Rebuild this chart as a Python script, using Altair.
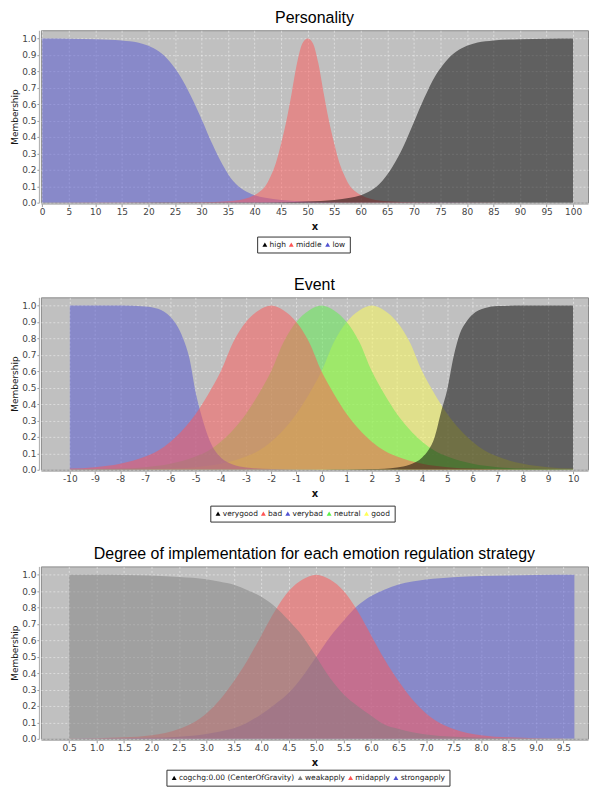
import altair as alt
import pandas as pd

FONT = "DejaVu Sans"
TITLE_FONT = "Liberation Sans"

# ---------------- Panel 1: Personality ----------------
p1_names = ["high", "middle", "low"]
p1_colors = ["#000000", "#ff5555", "#5052d2"]

low_x = [0, 5, 10, 15, 18, 20, 22, 24, 26, 28, 30, 32, 34, 36, 38, 40, 42, 45, 50, 55, 60, 70, 85, 100]
low_y = [1.0, 0.999, 0.996, 0.988, 0.975, 0.955, 0.92, 0.86, 0.77, 0.65, 0.51, 0.36, 0.23, 0.13,
         0.075, 0.045, 0.03, 0.017, 0.007, 0.003, 0.0015, 0.0005, 0.0002, 0.0001]

middle_x = [0, 20, 30, 35, 38, 40, 41, 42, 43, 44, 45, 46, 47, 48, 49, 50,
            51, 52, 53, 54, 55, 56, 57, 58, 59, 60, 62, 65, 70, 80, 100]
middle_y = [0.0001, 0.0005, 0.002, 0.008, 0.022, 0.047, 0.068, 0.1, 0.16, 0.24, 0.36, 0.5, 0.67, 0.85, 0.97, 1.0,
            0.97, 0.85, 0.67, 0.5, 0.36, 0.24, 0.16, 0.1, 0.068, 0.047, 0.022, 0.008, 0.002, 0.0005, 0.0001]

high_x = [0, 15, 30, 40, 45, 50, 55, 58, 60, 62, 64, 66, 68, 70, 72, 74, 76, 78, 80, 82, 85, 90, 95, 100]
high_y = [0.0001, 0.0002, 0.0005, 0.0015, 0.003, 0.007, 0.017, 0.03, 0.045, 0.075, 0.13, 0.22, 0.34,
          0.49, 0.64, 0.77, 0.86, 0.92, 0.955, 0.975, 0.988, 0.996, 0.999, 1.0]

p1_ticks = list(range(0, 101, 5))

# ---------------- Panel 2: Event ----------------
p2_names = ["verygood", "bad", "verybad", "neutral", "good"]
p2_colors = ["#000000", "#ff5555", "#5052d2", "#5cf04a", "#ffff55"]

verybad_x = [-10, -8, -7, -6.5, -6, -5.75, -5.5, -5.25, -5, -4.75, -4.5, -4.25, -4, -3.5, -3, -2, -1, 0, 2, 5, 10]
verybad_y = [1.0, 1.0, 0.995, 0.98, 0.93, 0.88, 0.8, 0.68, 0.47, 0.32, 0.2, 0.12, 0.075, 0.03, 0.014,
             0.004, 0.0015, 0.0005, 0.0001, 0.0, 0.0]

bad_x = [-10, -9, -8, -7, -6.5, -6, -5.5, -5, -4.5, -4, -3.5, -3, -2.5, -2, -1.5, -1, -0.5, 0,
         0.5, 1, 1.5, 2, 2.5, 3, 4, 5, 6, 7, 8, 10]
bad_y = [0.007, 0.016, 0.036, 0.08, 0.115, 0.17, 0.245, 0.34, 0.46, 0.6, 0.78, 0.9, 0.97, 1.0, 0.97,
         0.9, 0.78, 0.6, 0.46, 0.34, 0.245, 0.17, 0.115, 0.08, 0.036, 0.016, 0.007, 0.003, 0.0015, 0.0005]

neutral_x = [-10, -8, -7, -6, -5, -4.5, -4, -3.5, -3, -2.5, -2, -1.5, -1, -0.5, 0,
             0.5, 1, 1.5, 2, 2.5, 3, 3.5, 4, 4.5, 5, 6, 7, 8, 10]
neutral_y = [0.0015, 0.007, 0.016, 0.036, 0.08, 0.115, 0.17, 0.245, 0.34, 0.46, 0.6, 0.78, 0.9, 0.97, 1.0,
             0.97, 0.9, 0.78, 0.6, 0.46, 0.34, 0.245, 0.17, 0.115, 0.08, 0.036, 0.016, 0.007, 0.0015]

good_x = [-10, -8, -6, -5, -4, -3, -2.5, -2, -1.5, -1, -0.5, 0, 0.5, 1, 1.5, 2,
          2.5, 3, 3.5, 4, 4.5, 5, 5.5, 6, 6.5, 7, 8, 9, 10]
good_y = [0.0005, 0.0015, 0.007, 0.016, 0.036, 0.08, 0.115, 0.17, 0.245, 0.34, 0.46, 0.6, 0.78, 0.9, 0.97, 1.0,
          0.97, 0.9, 0.78, 0.6, 0.46, 0.34, 0.245, 0.17, 0.115, 0.08, 0.036, 0.016, 0.007]

verygood_x = [-10, -5, -2, 0, 1, 2, 3, 3.5, 4, 4.25, 4.5, 4.75, 5, 5.25, 5.5, 5.75, 6, 6.5, 7, 8, 10]
verygood_y = [0.0, 0.0, 0.0001, 0.0005, 0.0015, 0.004, 0.014, 0.03, 0.075, 0.12, 0.2, 0.35, 0.49,
              0.69, 0.83, 0.9, 0.945, 0.985, 0.997, 1.0, 1.0]

p2_ticks = list(range(-10, 11, 1))

# ---------------- Panel 3: Degree of implementation ----------------
p3_names = ["cogchg:0.00 (CenterOfGravity)", "weakapply", "midapply", "strongapply"]
p3_colors = ["#000000", "#808080", "#ff5555", "#5052d2"]

strong_x = [0.5, 1.0, 1.5, 2.0, 2.5, 3.0, 3.25, 3.5, 3.75, 4.0, 4.25, 4.5, 4.75, 5.0, 5.25, 5.5,
            5.75, 6.0, 6.25, 6.5, 7.0, 7.5, 8.0, 8.5, 9.0, 9.7]
strong_y = [0.001, 0.002, 0.003, 0.006, 0.013, 0.03, 0.045, 0.065, 0.1, 0.15, 0.21, 0.28, 0.38, 0.5,
            0.62, 0.72, 0.81, 0.87, 0.91, 0.94, 0.97, 0.984, 0.991, 0.995, 0.998, 1.0]

mid_x = [0.5, 1.0, 1.5, 2.0, 2.5, 3.0, 3.25, 3.5, 3.75, 4.0, 4.25, 4.5, 4.75, 5.0, 5.25, 5.5,
         5.75, 6.0, 6.25, 6.5, 6.75, 7.0, 7.5, 8.0, 8.5, 9.0, 9.5]
mid_y = [0.002, 0.004, 0.009, 0.022, 0.06, 0.155, 0.24, 0.35, 0.48, 0.63, 0.78, 0.9, 0.97, 1.0,
         0.97, 0.9, 0.78, 0.63, 0.48, 0.35, 0.24, 0.155, 0.06, 0.022, 0.009, 0.004, 0.002]

weak_x = [0.5, 1.0, 1.5, 2.0, 2.5, 3.0, 3.25, 3.5, 3.75, 4.0, 4.25, 4.5, 4.75, 5.0, 5.25, 5.5,
          5.75, 6.0, 6.25, 6.5, 6.75, 7.0, 7.5, 8.0, 8.5, 9.0, 9.5, 9.7]
weak_y = [1.0, 0.999, 0.998, 0.995, 0.986, 0.972, 0.956, 0.938, 0.905, 0.865, 0.805, 0.72, 0.625, 0.5,
          0.37, 0.27, 0.2, 0.14, 0.085, 0.06, 0.04, 0.027, 0.012, 0.006, 0.003, 0.002, 0.001, 0.0008]

p3_ticks = [0.5, 1.0, 1.5, 2.0, 2.5, 3.0, 3.5, 4.0, 4.5, 5.0, 5.5, 6.0, 6.5, 7.0, 7.5, 8.0, 8.5, 9.0, 9.5, 10.0]

y_ticks = [0.0, 0.1, 0.2, 0.3, 0.4, 0.5, 0.6, 0.7, 0.8, 0.9, 1.0]

PLOT_W = 549
PLOT_H = 173


def long_frame(series):
    rows = []
    for name, xs, ys in series:
        for xv, yv in zip(xs, ys):
            rows.append({"x": xv, "y": yv, "series": name})
    return pd.DataFrame(rows)


def panel(title, series, names, colors, xdomain, xticks, xlabel_expr, legend_x, legend_y):
    df = long_frame(series)
    x_enc = alt.X(
        "x:Q",
        scale=alt.Scale(domain=xdomain, nice=False, zero=False),
        axis=alt.Axis(
            values=xticks, labelExpr=xlabel_expr, title="x",
            titleFont=FONT, titleFontSize=10, titleFontWeight="bold", titleColor="#111",
            titlePadding=5,
            labelFont=FONT, labelFontSize=9, labelColor="#444", labelPadding=1,
            labelFlush=False, labelOverlap=False,
            tickSize=3, tickColor="#999", domainColor="#aaa", offset=1,
            grid=True, gridColor="#ffffff", gridDash=[2, 2], gridOpacity=0.75, gridWidth=0.6,
        ),
    )
    y_enc = alt.Y(
        "y:Q",
        stack=None,
        scale=alt.Scale(domain=[0, 1.05], nice=False, zero=False),
        axis=alt.Axis(
            values=y_ticks, format=".1f", title="Membership",
            titleFont=FONT, titleFontSize=9, titleFontWeight="normal", titleColor="#111",
            titlePadding=2,
            labelFont=FONT, labelFontSize=9, labelColor="#444", labelPadding=1,
            labelFlush=False, labelOverlap=False,
            tickSize=2, tickColor="#999", domainColor="#aaa", offset=2,
            grid=True, gridColor="#ffffff", gridDash=[2, 2], gridOpacity=0.75, gridWidth=0.6,
        ),
    )
    color_enc = alt.Color(
        "series:N",
        scale=alt.Scale(domain=names, range=colors),
        legend=alt.Legend(
            title=None, orient="none", legendX=legend_x, legendY=legend_y,
            direction="horizontal", columns=len(names),
            symbolType="triangle-up", symbolSize=24, symbolStrokeWidth=0, symbolOpacity=1,
            labelFont=FONT, labelFontSize=7.5, labelColor="#222", labelOffset=1,
            columnPadding=1.5, padding=4, strokeColor="#333", fillColor="#ffffff",
        ),
    )
    layers = []
    for name, _, _ in series:
        layers.append(
            alt.Chart(df)
            .transform_filter(alt.datum.series == name)
            .mark_area(opacity=0.5, interpolate="monotone", clip=True)
            .encode(x=x_enc, y=y_enc, color=color_enc)
        )
    return alt.layer(*layers).properties(
        width=PLOT_W, height=PLOT_H,
        title=alt.TitleParams(title, font=TITLE_FONT, fontSize=16, fontWeight="normal",
                              color="#000000", offset=4, anchor="middle"),
    )


INT_LABEL = "(datum.value < 0 ? '-' : '') + format(abs(datum.value), 'd')"
DEC_LABEL = "format(datum.value, '.1f')"

# series listed in drawing order (reverse of legend order, last drawn on top)
p1 = panel("Personality",
           [("low", low_x, low_y), ("middle", middle_x, middle_y), ("high", high_x, high_y)],
           p1_names, p1_colors, [-0.25, 102.8], p1_ticks, INT_LABEL, 217, 207)

p2 = panel("Event",
           [("good", good_x, good_y), ("neutral", neutral_x, neutral_y),
            ("verybad", verybad_x, verybad_y), ("bad", bad_x, bad_y),
            ("verygood", verygood_x, verygood_y)],
           p2_names, p2_colors, [-11.15, 10.59], p2_ticks, INT_LABEL, 170, 209)

p3 = panel("Degree of implementation for each emotion regulation strategy",
           [("strongapply", strong_x, strong_y), ("midapply", mid_x, mid_y),
            ("weakapply", weak_x, weak_y)],
           p3_names, p3_colors, [-0.014, 9.948], p3_ticks, DEC_LABEL, 126, 204)

chart = (
    alt.vconcat(p1, p2, p3, spacing=23)
    .resolve_scale(color="independent", x="independent", y="independent")
    .resolve_legend(color="independent")
    .properties(padding={"left": 2, "top": 0, "right": 0, "bottom": 0})
    .configure_view(fill="#c0c0c0", stroke="#8a8a8a", strokeWidth=1)
)

chart.save("out.html", embed_options={"renderer": "svg", "actions": False})
